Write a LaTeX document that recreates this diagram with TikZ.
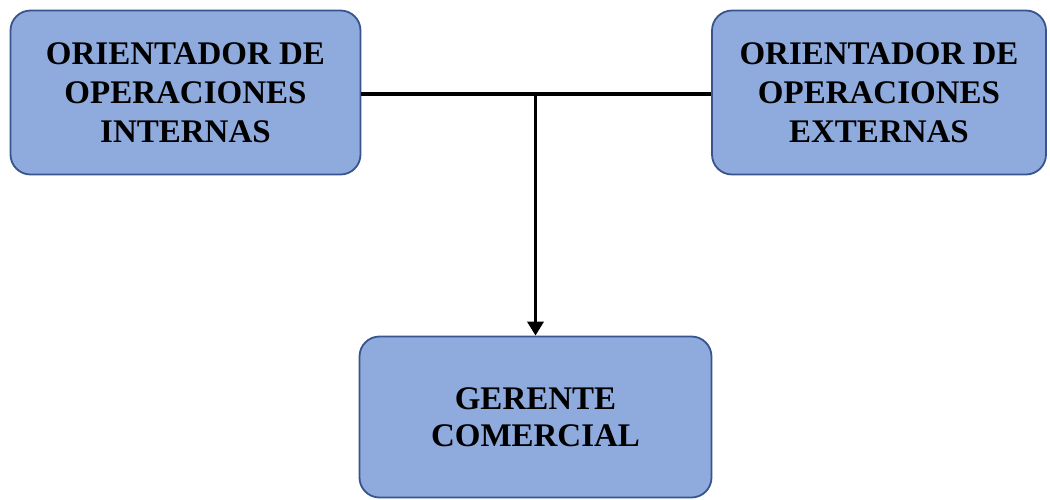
\documentclass[tikz,border=0pt]{standalone}
\usepackage{fontspec}
\setmainfont{Liberation Serif}
\usetikzlibrary{arrows.meta}

\definecolor{cajafill}{RGB}{143,170,220}
\definecolor{cajaline}{RGB}{55,85,140}

\begin{document}
\begin{tikzpicture}[x=1pt,y=1pt]
	\useasboundingbox (0,0) rectangle (1050,-499);
	\begin{scope}[node font=\fontsize{33}{39}\selectfont\bfseries]
		\begin{scope}[every node/.style={draw=cajaline,line width=1.8pt,fill=cajafill,rounded corners=20pt,align=center,inner sep=0pt}]
			\node[minimum width=350pt,minimum height=164pt] (interno) at (185.5,-92.5) {ORIENTADOR DE\\OPERACIONES\\INTERNAS};
			\node[minimum width=334pt,minimum height=164pt] (externo) at (879,-92.5) {ORIENTADOR DE\\OPERACIONES\\EXTERNAS};
			\node[minimum width=352pt,minimum height=161pt,font=\fontsize{33}{37}\selectfont\bfseries] (gerente) at (535.5,-417) {GERENTE\\COMERCIAL};
		\end{scope}
		
		\coordinate (union) at (gerente.north |- 0,-94);
	
		\path[line width=3.8pt] (interno.east |- union) edge (externo.west |- union);
		\path[line width=3.8pt,-{Triangle[width=16pt,length=14pt]}] (union) edge (gerente.north);
	\end{scope}
\end{tikzpicture}
\end{document}
